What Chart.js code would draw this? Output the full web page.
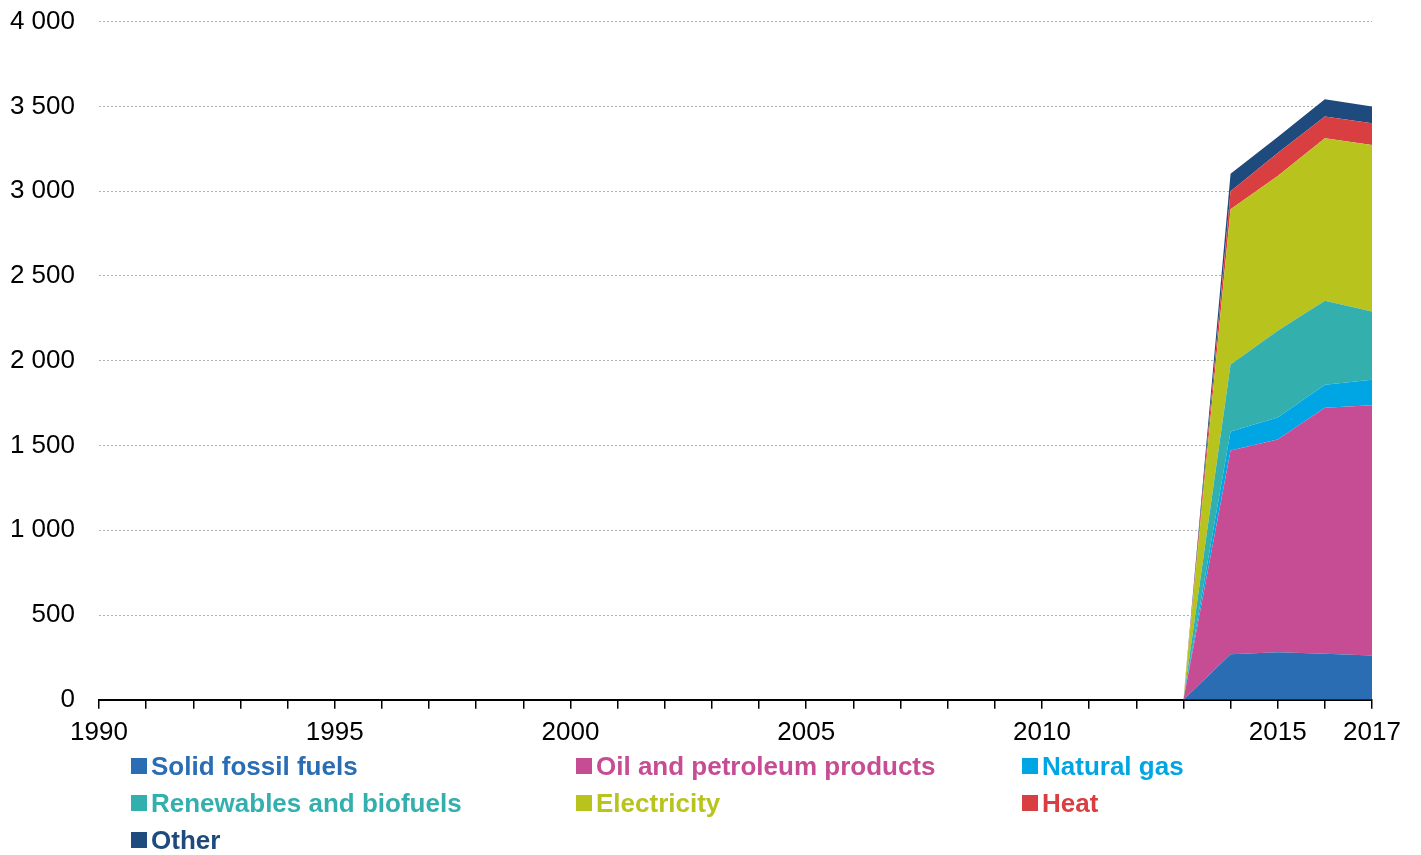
<!DOCTYPE html>
<html>
<head>
<meta charset="utf-8">
<script src="https://cdn.jsdelivr.net/npm/chart.js@4/dist/chart.umd.min.js"></script>
<style>
  html, body { margin: 0; padding: 0; background: #fff; }
  #wrap { position: relative; width: 1421px; height: 855px; overflow: hidden; }
  #chart { position: absolute; left: 0; top: -18px; }
  #legend {
    position: absolute; left: 131px; top: 750px;
    display: grid; grid-template-columns: 445px 446px 300px; row-gap: 5px;
    font-family: "Liberation Sans", Arial, sans-serif; font-weight: bold; font-size: 26px;
  }
  .item { display: flex; align-items: center; height: 32px; white-space: nowrap; }
  .box { width: 16px; height: 16px; margin-right: 4px; }
</style>
</head>
<body>
<div id="wrap">
  <canvas id="chart" width="1421" height="873"></canvas>
  <div id="legend"></div>
</div>
<script>
const years = ['1990','1991','1992','1993','1994','1995','1996','1997','1998','1999',
  '2000','2001','2002','2003','2004','2005','2006','2007','2008','2009',
  '2010','2011','2012','2013','2014','2015','2016','2017'];
const shownYears = ['1990','1995','2000','2005','2010','2015','2017'];

const seriesNames = ['Solid fossil fuels', 'Oil and petroleum products', 'Natural gas',
  'Renewables and biofuels', 'Electricity', 'Heat', 'Other'];
const seriesColors = ['#2a6db3', '#c64d94', '#00a6e3', '#33b0ae', '#b9c31e', '#d93e41', '#1f4a7d'];

// 1990-2013 empty, values only from 2014
const solid = [0,0,0,0,0,0,0,0,0,0,0,0,0,0,0,0,0,0,0,0,0,0,0,0, 268, 280, 272, 262];
const oil = [0,0,0,0,0,0,0,0,0,0,0,0,0,0,0,0,0,0,0,0,0,0,0,0, 1202, 1255, 1451, 1475];
const gas = [0,0,0,0,0,0,0,0,0,0,0,0,0,0,0,0,0,0,0,0,0,0,0,0, 112, 130, 135, 151];
const renewables = [0,0,0,0,0,0,0,0,0,0,0,0,0,0,0,0,0,0,0,0,0,0,0,0, 396, 512, 496, 402];
const electricity = [0,0,0,0,0,0,0,0,0,0,0,0,0,0,0,0,0,0,0,0,0,0,0,0, 915, 913, 958, 982];
const heat = [0,0,0,0,0,0,0,0,0,0,0,0,0,0,0,0,0,0,0,0,0,0,0,0, 107, 135, 128, 128];
const other = [0,0,0,0,0,0,0,0,0,0,0,0,0,0,0,0,0,0,0,0,0,0,0,0, 103, 95, 102, 100];

const seriesData = [solid, oil, gas, renewables, electricity, heat, other];

const yTicks = [0, 500, 1000, 1500, 2000, 2500, 3000, 3500, 4000];

const font = "'Liberation Sans', Arial, sans-serif";

const datasets = seriesNames.map((name, i) => ({
  label: name,
  data: seriesData[i],
  backgroundColor: seriesColors[i],
  borderColor: seriesColors[i],
  borderWidth: 0,
  pointRadius: 0,
  tension: 0,
  fill: i === 0 ? 'origin' : '-1'
}));

new Chart(document.getElementById('chart'), {
  type: 'line',
  data: { labels: years, datasets: datasets },
  options: {
    responsive: false,
    animation: false,
    layout: { padding: { top: 0, right: 49, bottom: 99, left: 10 } },
    plugins: { legend: { display: false }, tooltip: { enabled: false } },
    scales: {
      x: {
        offset: false,
        grid: { drawOnChartArea: false, drawTicks: true, tickLength: 9, color: '#000', lineWidth: 1.5 },
        border: { color: '#000', width: 2 },
        ticks: {
          autoSkip: false, maxRotation: 0, padding: 8,
          color: '#000', font: { family: font, size: 26 },
          callback: function(v) {
            const y = this.getLabelForValue(v);
            return shownYears.includes(y) ? y : '';
          }
        }
      },
      y: {
        stacked: true,
        min: 0, max: 4000,
        afterBuildTicks: axis => { axis.ticks = yTicks.map(v => ({ value: v })); },
        afterFit: axis => { axis.width = 89; },
        grid: { color: '#b0b0b0', lineWidth: 1, drawTicks: false },
        border: { display: false, dash: [2, 2] },
        ticks: {
          padding: 24, color: '#000', font: { family: font, size: 26 },
          callback: v => v.toString().replace(/\B(?=(\d{3})+(?!\d))/g, ' ')
        }
      }
    }
  }
});

const legend = document.getElementById('legend');
seriesNames.forEach((name, i) => {
  const item = document.createElement('div');
  item.className = 'item';
  item.innerHTML = '<span class="box" style="background:' + seriesColors[i] + '"></span>' +
    '<span style="color:' + seriesColors[i] + '">' + name + '</span>';
  legend.appendChild(item);
});
</script>
</body>
</html>
